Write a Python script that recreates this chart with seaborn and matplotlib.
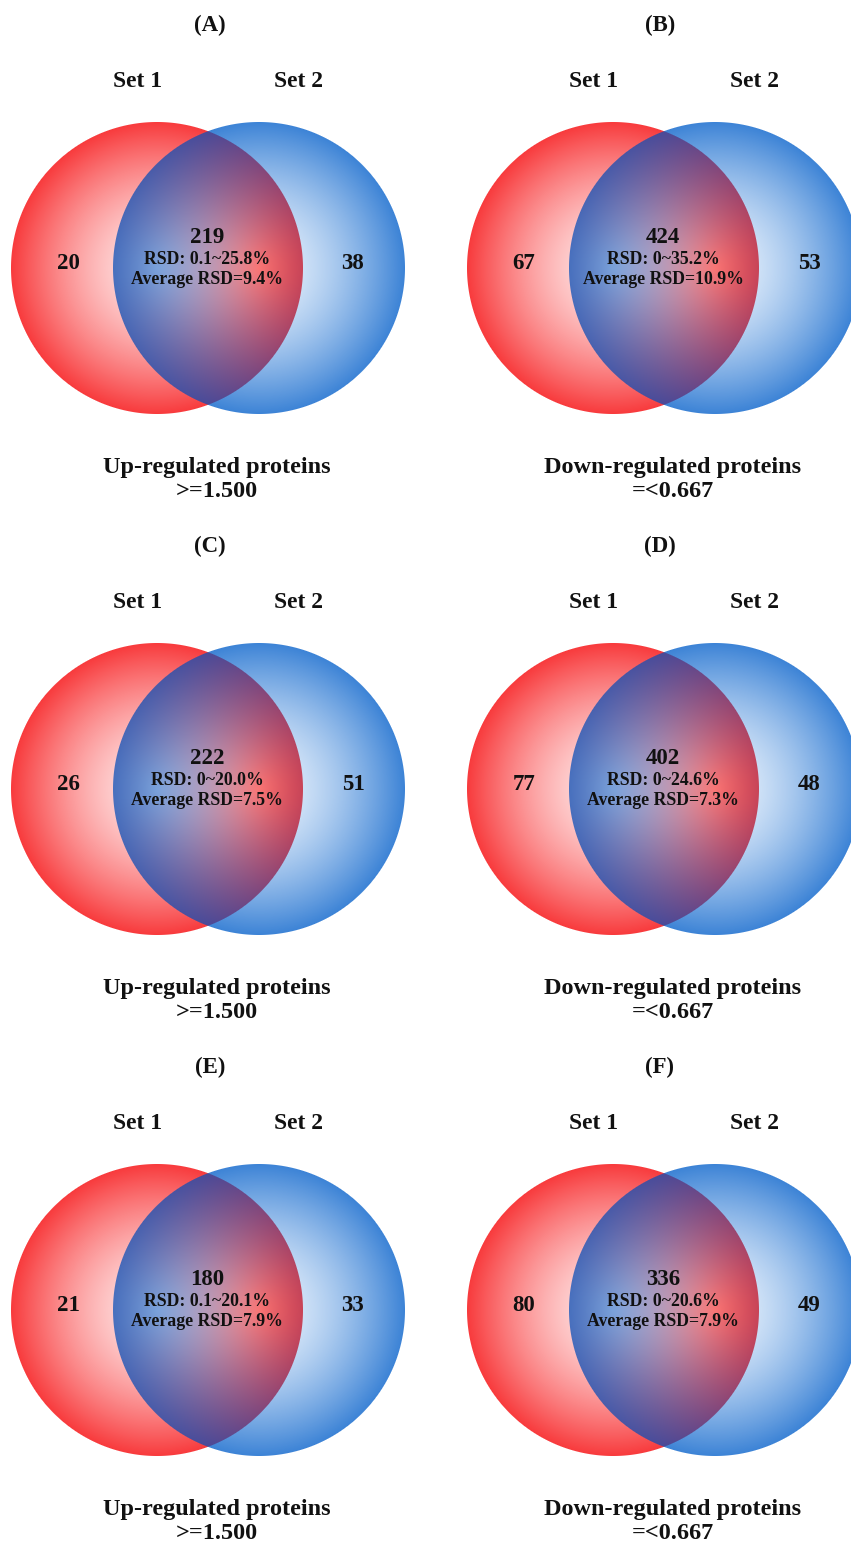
import numpy as np
import matplotlib
matplotlib.use("Agg")
import matplotlib.pyplot as plt
import seaborn as sns

# ---- data ----------------------------------------------------------------
panel_tags = ["(A)", "(B)", "(C)", "(D)", "(E)", "(F)"]
set_names = ["Set 1", "Set 2"]
only_set1 = [20, 67, 26, 77, 21, 80]
only_set2 = [38, 53, 51, 48, 33, 49]
shared = [219, 424, 222, 402, 180, 336]
rsd_range = ["0.1~25.8%", "0~35.2%", "0~20.0%", "0~24.6%", "0.1~20.1%", "0~20.6%"]
rsd_mean = ["9.4%", "10.9%", "7.5%", "7.3%", "7.9%", "7.9%"]
regulation = ["Up-regulated proteins", "Down-regulated proteins"] * 3
cutoff = [">=1.500", "=<0.667"] * 3

# ---- layout (figure pixels) ----------------------------------------------
W, H = 851, 1542
ROW_STEP = 521
COL_STEP = 456
RADIUS = 146
RED_CX, BLUE_CX, CIRCLE_CY = 157, 259, 268
TAG_X = [210, 660]

sns.set_theme(style="white")
plt.rcParams["font.family"] = ["Liberation Serif", "DejaVu Serif"]
plt.rcParams["font.weight"] = "bold"

fig = plt.figure(figsize=(W / 100, H / 100), dpi=100)
fig.patch.set_facecolor("white")
ax = fig.add_axes([0, 0, 1, 1])
ax.set_facecolor("white")

# radial gradients: light centre -> saturated rim
N = 256
red_lut = np.array(sns.blend_palette(["#ffe8e8", "#f83a3c"], N))
blue_lut = np.array(sns.blend_palette(["#eaf3fd", "#3c83d6"], N))
EASE = 1.5

# colour of the shared lens as a bilinear surface of the two radial positions
anchor_s = np.array([[0.3, 1.0], [1.0, 0.3], [0.35, 0.35], [1.0, 1.0]])
anchor_rgb = np.array([[72, 112, 190], [200, 68, 88], [184, 154, 184], [74, 74, 152]]) / 255.0
design = np.column_stack([np.ones(4), anchor_s[:, 0], anchor_s[:, 1], anchor_s[:, 0] * anchor_s[:, 1]])
lens_coef = np.linalg.solve(design, anchor_rgb)


def draw_venn(cx1, cx2, cy, r):
    xs = np.arange(np.floor(cx1 - r - 3), np.ceil(cx2 + r + 3)) + 0.5
    ys = np.arange(np.floor(cy - r - 3), np.ceil(cy + r + 3)) + 0.5
    X, Y = np.meshgrid(xs, ys)
    d1 = np.hypot(X - cx1, Y - cy)
    d2 = np.hypot(X - cx2, Y - cy)
    c1 = np.clip(r - d1 + 0.5, 0, 1)[..., None]
    c2 = np.clip(r - d2 + 0.5, 0, 1)[..., None]
    s1 = np.clip(d1 / r, 0, 1)
    s2 = np.clip(d2 / r, 0, 1)
    red = red_lut[(s1 ** EASE * (N - 1)).astype(int)]
    blue = blue_lut[(s2 ** EASE * (N - 1)).astype(int)]
    lens = (lens_coef[0] + s1[..., None] * lens_coef[1] + s2[..., None] * lens_coef[2]
            + (s1 * s2)[..., None] * lens_coef[3])
    lens = np.clip(lens, 0, 1)
    img = ((1 - c1) * (1 - c2) * 1.0 + c1 * (1 - c2) * red
           + c2 * (1 - c1) * blue + c1 * c2 * lens)
    ax.imshow(np.clip(img, 0, 1), extent=(xs[0] - 0.5, xs[-1] + 0.5, ys[-1] + 0.5, ys[0] - 0.5),
              interpolation="nearest", aspect="auto", zorder=1)


def label(x, y, s, size):
    ax.text(x, y, s, ha="center", va="baseline", fontsize=size, fontweight="bold",
            color="#111111", zorder=3)


for i, tag in enumerate(panel_tags):
    row, col = divmod(i, 2)
    dy = row * ROW_STEP
    dx = col * COL_STEP
    draw_venn(RED_CX + dx, BLUE_CX + dx, CIRCLE_CY + dy, RADIUS)

    label(TAG_X[col], 31.5 + dy, tag, 16.5)
    label(138 + dx, 87 + dy, set_names[0], 17)
    label(298 + dx, 87 + dy, set_names[1], 17)
    label(68 + dx, 269 + dy, str(only_set1[i]), 16.5)
    label(353 + dx, 269 + dy, str(only_set2[i]), 16.5)
    label(207 + dx, 243 + dy, str(shared[i]), 16.5)
    label(207 + dx, 264 + dy, "RSD: " + rsd_range[i], 12.8)
    label(207 + dx, 284 + dy, "Average RSD=" + rsd_mean[i], 12.8)
    label(217 + dx, 473 + dy, regulation[i], 17.5)
    label(217 + dx, 497 + dy, cutoff[i], 17.5)

ax.set_xlim(0, W)
ax.set_ylim(H, 0)
ax.axis("off")
fig.savefig("out.png", dpi=100, facecolor="white")
